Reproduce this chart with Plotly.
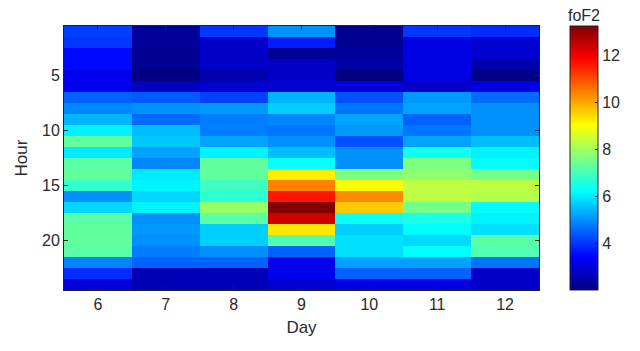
import plotly.graph_objects as go

days = [6, 7, 8, 9, 10, 11, 12]
hours = list(range(1, 25))

day6 = [4.1, 4.0, 3.5, 3.5, 3.2, 3.2, 4.5, 4.9, 5.4, 6.1, 7.3, 6.0, 7.2, 7.3, 6.8, 5.0, 5.8, 7.2, 7.3, 7.3, 7.2, 4.9, 3.9, 3.0]
day7 = [2.3, 2.3, 2.2, 2.2, 2.0, 2.7, 4.4, 5.0, 4.6, 5.5, 5.6, 5.2, 4.9, 6.0, 6.1, 5.8, 6.1, 5.0, 5.1, 5.0, 4.8, 4.5, 2.6, 2.6]
day8 = [4.0, 2.8, 2.8, 2.8, 2.5, 2.9, 4.1, 5.1, 4.8, 4.8, 5.2, 6.1, 7.3, 7.3, 6.9, 6.7, 7.9, 7.2, 5.7, 5.7, 5.0, 4.5, 2.6, 2.6]
day9 = [5.0, 3.7, 2.2, 2.8, 2.8, 2.9, 5.4, 5.7, 4.9, 4.7, 5.0, 5.5, 6.3, 9.2, 10.4, 11.6, 13.2, 12.4, 9.3, 7.1, 4.5, 3.2, 3.2, 2.9]
day10 = [2.2, 2.2, 2.3, 2.4, 2.0, 3.0, 4.3, 4.7, 5.2, 5.1, 4.3, 5.0, 5.0, 7.6, 9.0, 10.3, 9.6, 6.3, 5.7, 5.9, 5.9, 5.2, 4.5, 3.1]
day11 = [4.0, 3.1, 3.1, 3.1, 3.1, 2.8, 5.1, 5.2, 4.5, 4.7, 5.2, 6.4, 7.6, 7.8, 8.3, 8.3, 7.5, 6.5, 6.2, 5.8, 6.2, 5.2, 4.5, 3.1]
day12 = [3.9, 2.9, 2.9, 2.5, 2.1, 3.1, 4.6, 5.0, 5.0, 5.0, 5.5, 6.1, 6.2, 7.5, 8.3, 8.2, 6.2, 6.1, 5.9, 7.2, 7.1, 4.7, 2.8, 2.8]

x_ticks = [6, 7, 8, 9, 10, 11, 12]
y_ticks = [5, 10, 15, 20]
cbar_ticks = [4, 6, 8, 10, 12]

columns = [day6, day7, day8, day9, day10, day11, day12]
z = [[col[h] for col in columns] for h in range(len(hours))]

jet = [
    [0.0, "rgb(0,0,128)"],
    [0.125, "rgb(0,0,255)"],
    [0.375, "rgb(0,255,255)"],
    [0.625, "rgb(255,255,0)"],
    [0.875, "rgb(255,0,0)"],
    [1.0, "rgb(128,0,0)"],
]

font = "Liberation Sans, Arial, sans-serif"
txt = "#2a2a2a"

fig = go.Figure(
    go.Heatmap(
        x=days,
        y=hours,
        z=z,
        colorscale=jet,
        zmin=2.0,
        zmax=13.25,
        colorbar=dict(
            tickvals=cbar_ticks,
            tickfont=dict(size=16, color=txt, family=font),
            thickness=28,
            thicknessmode="pixels",
            len=1.0,
            lenmode="fraction",
            y=0.5,
            yanchor="middle",
            x=1.065,
            xanchor="left",
            outlinewidth=1,
            outlinecolor="#222",
            ticks="inside",
            ticklen=3,
            tickcolor="#222",
            xpad=0,
            ypad=0,
        ),
    )
)

fig.add_annotation(
    text="foF2",
    xref="paper",
    yref="paper",
    x=1.094,
    y=1.0,
    xanchor="center",
    yanchor="bottom",
    showarrow=False,
    font=dict(size=16, color=txt, family=font),
)

fig.update_layout(
    width=632,
    height=343,
    margin=dict(l=53, r=101, t=18, b=61),
    paper_bgcolor="white",
    plot_bgcolor="white",
    font=dict(family=font, color=txt, size=16),
)

fig.update_xaxes(
    range=[5.5, 12.5],
    tickvals=x_ticks,
    ticks="inside",
    ticklen=4,
    tickcolor="#222",
    showline=True,
    linecolor="#222",
    linewidth=1,
    mirror="allticks",
    showgrid=False,
    zeroline=False,
    tickfont=dict(size=16, color=txt),
    title=dict(text="Day", font=dict(size=17, color=txt), standoff=8),
)

fig.update_yaxes(
    range=[24.5, 0.5],
    tickvals=y_ticks,
    ticks="inside",
    ticklen=4,
    tickcolor="#222",
    showline=True,
    linecolor="#222",
    linewidth=1,
    mirror="allticks",
    showgrid=False,
    zeroline=False,
    tickfont=dict(size=16, color=txt),
    title=dict(text="Hour", font=dict(size=17, color=txt), standoff=10),
)

fig.write_html("out.html")
